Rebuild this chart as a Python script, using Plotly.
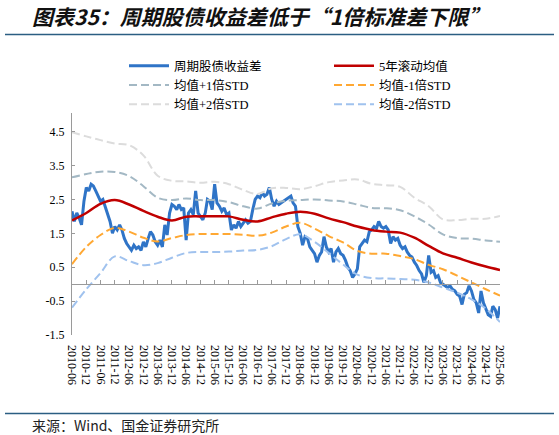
import pandas as pd
import plotly.graph_objects as go

# ---- data ----
months = pd.date_range("2010-06-01", periods=181, freq="MS")
spread = [
    2.15, 1.85, 2.1, 1.95, 1.75, 2.45, 2.85, 2.75, 2.95, 2.9,
    2.75, 2.6, 2.45, 2.5, 2.3, 2.1, 1.85, 1.5, 1.7, 1.6,
    1.75, 1.6, 1.35, 1.2, 1.1, 1.0, 1.15, 1.05, 1.1, 1.0,
    1.25, 1.1, 1.35, 1.55, 1.45, 1.25, 1.15, 1.3, 1.1, 1.75,
    1.45, 2.1, 2.35, 2.3, 2.2, 2.35, 2.2, 2.25, 1.3, 2.1,
    2.2, 2.05, 2.75, 2.1, 2.0, 1.9, 2.1, 2.5, 2.45, 2.2,
    2.95, 2.4, 2.3, 2.15, 2.25, 2.05, 2.1, 1.6, 1.75, 1.65,
    1.85, 1.7, 1.8, 1.9, 1.8, 1.85, 2.2, 2.5, 2.6, 2.55,
    2.7, 2.6, 2.65, 2.85, 2.5, 2.3, 2.45, 2.35, 2.4, 2.45,
    2.5, 2.55, 2.6, 2.4, 2.3, 1.7, 1.5, 1.15, 1.4, 1.35,
    1.1, 1.0, 0.9, 0.65, 0.85, 0.95, 1.4, 1.1, 0.95, 1.05,
    0.65, 0.95, 1.05, 0.9, 0.85, 0.7, 0.5, 0.4, 0.2, 0.3,
    0.45, 1.1, 1.2, 1.3, 1.25, 1.55, 1.6, 1.7, 1.65, 1.85,
    1.7, 1.65, 1.7, 1.6, 1.2, 1.4, 1.3, 1.35, 1.15, 1.05,
    1.1, 0.95, 0.85, 0.8, 0.65, 0.55, 0.4, 0.3, 0.05, 0.25,
    0.85, 0.35, 0.4, 0.2, 0.25, 0.05, 0.0, -0.05, -0.1, -0.05,
    -0.15, -0.2, -0.3, -0.35, -0.6, -0.3, -0.25, -0.05, -0.2, -0.45,
    -0.55, -0.85, -0.2, -0.55, -0.7, -0.9, -0.95, -0.65, -0.75, -1.0, -0.65,
]

half_years = pd.date_range("2010-06-01", periods=31, freq="6MS")
mean_5y = [1.88, 2.1, 2.37, 2.48, 2.35, 2.16, 1.99, 1.88, 1.99, 2.0, 2.0,
           2.0, 1.9, 1.85, 1.97, 2.08, 2.14, 2.08, 1.94, 1.83, 1.70,
           1.60, 1.55, 1.52, 1.37, 1.13, 0.91, 0.78, 0.64, 0.52, 0.42]
plus_1 = [3.15, 3.25, 3.32, 3.31, 3.19, 2.89, 2.55, 2.48, 2.53, 2.48, 2.48,
          2.42, 2.30, 2.23, 2.38, 2.46, 2.48, 2.5, 2.47, 2.44, 2.35,
          2.25, 2.24, 2.18, 2.0, 1.76, 1.47, 1.36, 1.34, 1.29, 1.25]
plus_2 = [4.48, 4.36, 4.25, 4.15, 4.1, 3.8, 3.2, 3.05, 3.03, 2.99, 3.02,
          2.95, 2.78, 2.66, 2.83, 2.84, 2.8, 2.89, 3.01, 3.06, 3.09,
          2.96, 2.92, 2.87, 2.55, 2.3, 1.91, 1.89, 1.93, 1.93, 2.01]
minus_1 = [0.59, 1.1, 1.45, 1.66, 1.55, 1.37, 1.26, 1.36, 1.45, 1.48, 1.48,
           1.48, 1.46, 1.43, 1.52, 1.7, 1.81, 1.64, 1.42, 1.23, 0.98,
           0.9, 0.9, 0.83, 0.74, 0.57, 0.44, 0.25, 0.05, -0.15, -0.34]
minus_2 = [-0.69, -0.15, 0.33, 0.82, 0.68, 0.56, 0.62, 0.78, 0.92, 0.95, 0.95,
           0.96, 0.99, 1.01, 1.12, 1.33, 1.47, 1.25, 0.92, 0.58, 0.28,
           0.18, 0.17, 0.15, 0.13, 0.05, -0.1, -0.25, -0.45, -0.72, -1.12]

x_tick_labels = [d.strftime("%Y-%m") for d in half_years]
y_ticks = [-1.5, -0.5, 0.5, 1.5, 2.5, 3.5, 4.5]

# ---- page geometry (px) ----
W, H = 559, 435
ML, MR, MT, MB = 72, 59, 113, 100
PW, PH = W - ML - MR, H - MT - MB
Y_RANGE = [-1.5, 5.05]


def px_x(px):
    return (px - ML) / PW


def px_y(py):
    return (H - MB - py) / PH


SERIF = "Liberation Serif, Noto Sans CJK SC"
CJK = "Noto Sans CJK SC"
DASH = "8px,4px"

fig = go.Figure()
fig.add_trace(go.Scatter(x=months, y=spread, name="周期股债收益差", mode="lines",
                         line=dict(color="#2F74C7", width=3)))
fig.add_trace(go.Scatter(x=half_years, y=mean_5y, name="5年滚动均值", mode="lines",
                         line=dict(color="#C00000", width=2.5, shape="spline")))
fig.add_trace(go.Scatter(x=half_years, y=plus_1, name="均值+1倍STD", mode="lines",
                         line=dict(color="#A3B8C4", width=2, dash=DASH, shape="spline")))
fig.add_trace(go.Scatter(x=half_years, y=minus_1, name="均值-1倍STD", mode="lines",
                         line=dict(color="#FFA833", width=2, dash=DASH, shape="spline")))
fig.add_trace(go.Scatter(x=half_years, y=plus_2, name="均值+2倍STD", mode="lines",
                         line=dict(color="#DCDCDC", width=2, dash=DASH, shape="spline")))
fig.add_trace(go.Scatter(x=half_years, y=minus_2, name="均值-2倍STD", mode="lines",
                         line=dict(color="#A0C2EE", width=2, dash=DASH, shape="spline")))
# carrier for the zero axis with tick marks
fig.add_trace(go.Scatter(x=[], y=[], xaxis="x2", showlegend=False, hoverinfo="skip"))

fig.update_layout(
    width=W, height=H,
    margin=dict(l=ML, r=MR, t=MT, b=MB, autoexpand=False),
    paper_bgcolor="white", plot_bgcolor="white",
    xaxis=dict(
        type="date", range=[half_years[0], half_years[-1]],
        tickvals=list(half_years), ticktext=x_tick_labels, tickangle=90,
        tickfont=dict(family=SERIF, size=12, color="#000"), ticklabelstandoff=9,
        showline=False, ticks="", showgrid=False, zeroline=False, automargin=False,
    ),
    xaxis2=dict(
        type="date", range=[half_years[0], half_years[-1]], overlaying="x",
        anchor="free", position=(0 - Y_RANGE[0]) / (Y_RANGE[1] - Y_RANGE[0]),
        tickvals=list(half_years), showticklabels=False,
        showline=True, linecolor="#9A9A9A", linewidth=1,
        ticks="inside", ticklen=4, tickcolor="#9A9A9A", showgrid=False, zeroline=False,
    ),
    yaxis=dict(
        range=Y_RANGE, tickvals=y_ticks, ticktext=[f"{v:.1f}" for v in y_ticks],
        tickfont=dict(family=SERIF, size=12, color="#000"), ticklabelstandoff=4,
        showline=True, linecolor="#9A9A9A", linewidth=1, automargin=False,
        ticks="inside", ticklen=3, tickcolor="#9A9A9A", showgrid=False, zeroline=False,
    ),
    legend=dict(
        orientation="h", xref="container", yref="container",
        x=124 / W, y=1 - 51 / H, xanchor="left", yanchor="top",
        font=dict(family=SERIF, size=12.5, color="#000"),
        itemwidth=40, entrywidth=150, entrywidthmode="pixels",
        bgcolor="rgba(0,0,0,0)", tracegroupgap=0,
    ),
    showlegend=True,
)

fig.add_annotation(
    text="图表35：周期股债收益差低于“1倍标准差下限”",
    xref="paper", yref="paper", x=px_x(30), y=px_y(16),
    xanchor="left", yanchor="middle", showarrow=False,
    font=dict(family=CJK, size=21, color="#111", weight="bold", style="italic"),
)
fig.add_annotation(
    text="来源：Wind、国金证券研究所",
    xref="paper", yref="paper", x=px_x(30), y=px_y(425),
    xanchor="left", yanchor="middle", showarrow=False,
    font=dict(family=CJK, size=14, color="#222"),
)
for py in (34.5, 413.5):
    fig.add_shape(type="line", xref="paper", yref="paper",
                  x0=px_x(5), x1=px_x(554), y0=px_y(py), y1=px_y(py),
                  line=dict(color="#2B5E82", width=1.6))

# the page's default 8px body margin would shift the whole figure
fig.write_html("out.html", config={"displayModeBar": False},
               post_script="document.body.style.margin='0';")
